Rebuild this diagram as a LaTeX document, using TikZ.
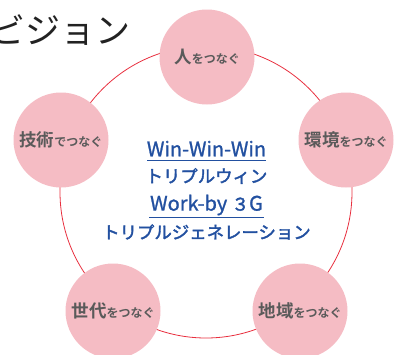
\documentclass[tikz,border=0pt]{standalone}
\usepackage{fontspec}
\setmainfont{Noto Sans CJK JP}
\newfontfamily\jpb{Noto Sans CJK JP Bold}
\newfontfamily\jpm[FakeBold=1.2]{Noto Sans CJK JP}
\newfontfamily\jpk[FakeBold=2.2]{Noto Sans CJK JP}
\definecolor{pinkfill}{HTML}{F5BCC4}
\definecolor{ringred}{HTML}{E8303F}
\definecolor{labgray}{HTML}{5A5A5A}
\definecolor{textblue}{HTML}{2250A0}
\definecolor{titleblack}{HTML}{222222}
\tikzset{
  topic/.style={circle, fill=pinkfill, minimum size=95pt, inner sep=0pt, text=labgray},
  bluetext/.style={text=textblue, inner sep=0pt, font=\jpk\fontsize{17.4}{17.4}\selectfont},
  latintext/.style={text=textblue, inner sep=0pt, font=\jpm\fontsize{20}{20}\selectfont},
  uline/.style={draw=textblue, line width=1pt},
  ring/.style={draw=ringred, line width=0.8pt}
}
\newcommand{\kj}[1]{{\jpb\fontsize{17.5}{17.5}\selectfont #1}}
\newcommand{\kn}[1]{{\jpb\fontsize{12}{12}\selectfont #1}}
\begin{document}
\begin{tikzpicture}[x=1pt,y=-1pt]
\useasboundingbox (0,0) rectangle (394,354);
\begin{scope}
\clip (0,0) rectangle (394,354);
\node[anchor=base west, inner sep=0pt, text=titleblack, font=\fontsize{35}{35}\selectfont] (title) at (-10,43) {ビジョン};
\node[circle, ring, minimum size=292pt, inner sep=0pt] (ringc) at (206,192) {};
\node[topic] (hito) at (207,57) {\kj{人}\kn{をつなぐ}};
\node[topic] (gijutsu) at (61,140) {\kj{技術}\kn{でつなぐ}};
\node[topic] (kankyo) at (346,140) {\kj{環境}\kn{をつなぐ}};
\node[topic] (sedai) at (113,311) {\kj{世代}\kn{をつなぐ}};
\node[topic] (chiiki) at (300,311) {\kj{地域}\kn{をつなぐ}};
\node[latintext] (w1) at (206.5,148.5) {Win-Win-Win};
\node[bluetext] (w2) at (206.5,176) {トリプルウィン};
\node[latintext] (w3) at (206.5,205) {Work-by {\jpk\fontsize{17.4}{17.4}\selectfont ３}G};
\node[bluetext] (w4) at (206.5,232) {トリプルジェネレーション};
\coordinate (u1a) at (147,160);
\coordinate (u1b) at (266,160);
\coordinate (u2a) at (149,217);
\coordinate (u2b) at (264,217);
\draw[uline] (u1a) -- (u1b);
\draw[uline] (u2a) -- (u2b);
\end{scope}
\end{tikzpicture}
\end{document}
